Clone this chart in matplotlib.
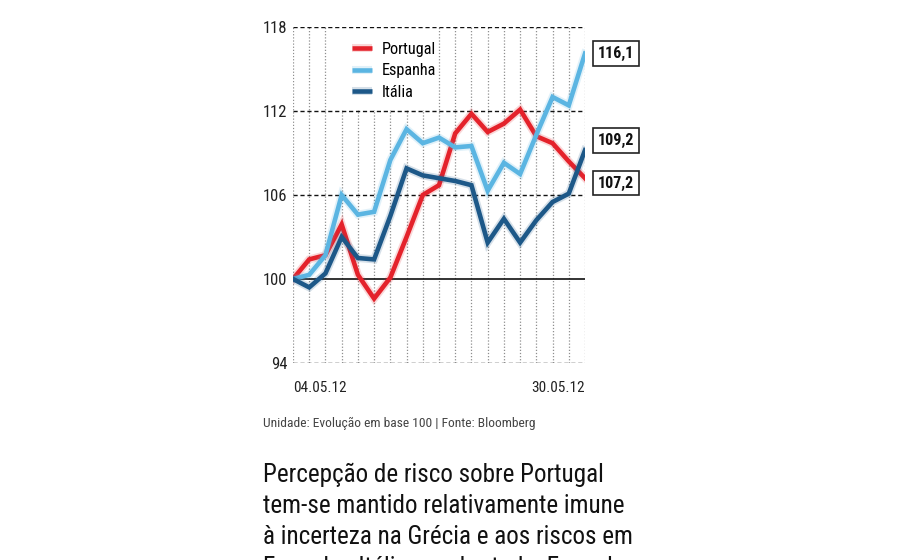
import matplotlib
matplotlib.use("Agg")
import matplotlib.pyplot as plt
import matplotlib.patheffects as pe
from matplotlib.patches import Rectangle
from matplotlib import font_manager

# ---- data ----
dates = ["04.05.12", "07.05.12", "08.05.12", "09.05.12", "10.05.12", "11.05.12",
         "14.05.12", "15.05.12", "16.05.12", "17.05.12", "18.05.12",
         "21.05.12", "22.05.12", "23.05.12", "24.05.12", "25.05.12",
         "28.05.12", "29.05.12", "30.05.12"]
portugal = [100.0, 101.4, 101.7, 103.9, 100.3, 98.6, 100.1, 103.0, 106.0, 106.7,
            110.4, 111.8, 110.5, 111.1, 112.1, 110.2, 109.7, 108.4, 107.2]
espanha = [100.0, 100.3, 101.7, 106.0, 104.6, 104.8, 108.5, 110.7, 109.7, 110.1,
           109.4, 109.5, 106.3, 108.3, 107.5, 110.3, 113.0, 112.4, 116.1]
italia = [100.0, 99.4, 100.4, 103.0, 101.5, 101.4, 104.5, 107.9, 107.4, 107.2,
          107.0, 106.7, 102.6, 104.3, 102.6, 104.2, 105.5, 106.1, 109.2]
series_names = ["Portugal", "Espanha", "Itália"]
end_labels = ["107,2", "116,1", "109,2"]
yticks = [94, 100, 106, 112, 118]
xtick_labels = ["04.05.12", "30.05.12"]

colors = ["#e4222b", "#5bb5e2", "#1d5888"]

# ---- font choice ----
available = {f.name for f in font_manager.fontManager.ttflist}
narrow = None
for cand in ["Roboto Condensed", "Liberation Sans Narrow", "Open Sans Condensed"]:
    if cand in available:
        narrow = cand
        break
if narrow is None:
    narrow = "DejaVu Sans"
    stretch = "condensed"
else:
    stretch = "normal"
plt.rcParams["font.family"] = [narrow, "DejaVu Sans"]
plt.rcParams["font.stretch"] = stretch

fig = plt.figure(figsize=(9, 5.6), dpi=100)
ax = fig.add_axes([293 / 900, 1 - 363 / 560, 292 / 900, 336 / 560])
n = len(dates)
xs = list(range(n))

ax.set_xlim(0, n - 1)
ax.set_ylim(94, 118)
for s in ax.spines.values():
    s.set_visible(False)

# grid
for x in xs:
    ax.axvline(x, color="#8f8f8f", lw=0.9, ls=(0, (1, 1.5)), zorder=1)
for y in yticks:
    if y == 100:
        ax.axhline(y, color="#111111", lw=1.2, zorder=1.5)
    else:
        ax.axhline(y, color="#111111", lw=1.0, ls=(0, (3, 2)), zorder=1.5)

# white backing behind legend (hides the dotted grid there)
ax.add_patch(Rectangle((0.123, 0.753), 0.37, 0.244, transform=ax.transAxes,
                       facecolor="white", edgecolor="none", zorder=1.2))

for data, c, name in zip([portugal, espanha, italia], colors, series_names):
    ax.plot(xs, data, color=c, lw=3.3, solid_joinstyle="miter", zorder=3, label=name,
            path_effects=[pe.Stroke(linewidth=5.8, foreground=c, alpha=0.18), pe.Normal()])

ax.set_yticks(yticks)
ax.set_yticklabels([str(v) for v in yticks], fontsize=12, color="#222222")
ax.tick_params(axis="y", length=0, pad=4)
ax.set_xticks([0, n - 1])
ax.set_xticklabels(xtick_labels, fontsize=11, color="#222222")
ax.tick_params(axis="x", length=0, pad=13)
lbls = ax.get_xticklabels()
lbls[0].set_horizontalalignment("left")
lbls[1].set_horizontalalignment("right")

leg = ax.legend(loc="upper left", bbox_to_anchor=(0.18, 0.975), frameon=False,
                fontsize=11.7, handlelength=1.2, handletextpad=0.6,
                labelspacing=0.4, borderaxespad=0)
for h in leg.get_lines():
    h.set_linewidth(3.3)
    h.set_solid_capstyle("butt")

# end value boxes
offsets = [-5, 0, 9.5]
for data, lab, off in zip([portugal, espanha, italia], end_labels, offsets):
    ax.annotate(lab, xy=(n - 1, data[-1]), xytext=(31, off), textcoords="offset pixels",
                ha="center", va="center", fontsize=11.5, fontweight="bold", color="#111111",
                annotation_clip=False,
                bbox=dict(boxstyle="square,pad=0.3", fc="white", ec="#222222", lw=1.2))

fig.text(263 / 900, 1 - 423 / 560, "Unidade: Evolução em base 100 | Fonte: Bloomberg",
         fontsize=9.7, color="#444444", va="center", ha="left")

headline = ["Percepção de risco sobre Portugal",
            "tem-se mantido relativamente imune",
            "à incerteza na Grécia e aos riscos em",
            "Espanha, Itália e, sobretudo, Espanha"]
for i, line in enumerate(headline):
    fig.text(263 / 900, 1 - (482 + 31 * i) / 560, line, fontsize=18.1, color="#111111",
             va="baseline", ha="left")

fig.savefig("out.png", dpi=100, facecolor="white")
